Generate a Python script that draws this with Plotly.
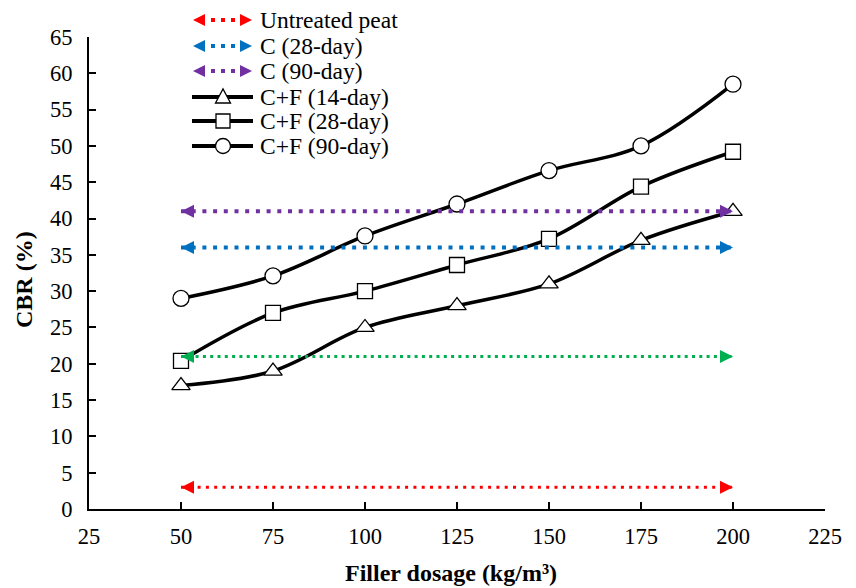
import plotly.graph_objects as go

# Filler dosage (kg/m3) and CBR (%) results
dosage = [50, 75, 100, 125, 150, 175, 200]
cbr_cf_14 = [17.0, 19.0, 25.0, 28.0, 31.0, 37.0, 41.0]
cbr_cf_28 = [20.4, 27.0, 30.0, 33.6, 37.2, 44.4, 49.2]
cbr_cf_90 = [29.0, 32.1, 37.6, 42.0, 46.6, 50.0, 58.5]

# Reference levels (constant over the dosage span)
level_names = ["Untreated peat", "C (28-day)", "C (90-day)", ""]
level_values = [3.0, 36.0, 41.0, 21.0]
level_colors = ["#FF0000", "#0070C0", "#7030A0", "#00B050"]
level_widths = [3, 4, 4, 3]
level_dashes = ["3px,5.3px", "4px,6.7px", "4px,6.7px", "3px,4.3px"]

cf_names = ["C+F (14-day)", "C+F (28-day)", "C+F (90-day)"]
cf_series = [cbr_cf_14, cbr_cf_28, cbr_cf_90]
cf_symbols = ["triangle-up", "square", "circle"]
cf_sizes = [16, 15, 16]

x_ticks = [25, 50, 75, 100, 125, 150, 175, 200, 225]
y_ticks = list(range(0, 70, 5))

FONT = "Liberation Serif"
W, H = 856, 588
ML, MR, MT, MB = 89, 31, 37, 79
PW, PH = W - ML - MR, H - MT - MB


def fx(px):
    return (px - ML) / PW


def fy(py):
    return (H - MB - py) / PH


fig = go.Figure()

for name, ys, sym, size in zip(cf_names, cf_series, cf_symbols, cf_sizes):
    fig.add_trace(go.Scatter(
        x=dosage, y=ys, name=name, mode="lines+markers",
        line=dict(color="black", width=3.5, shape="spline"),
        marker=dict(symbol=sym, size=size, color="white",
                    line=dict(color="black", width=1.3)),
        showlegend=False, cliponaxis=False,
    ))

shapes = []
for name, val, col, wd, dash in zip(level_names, level_values, level_colors,
                                    level_widths, level_dashes):
    fig.add_trace(go.Scatter(
        x=[dosage[0], dosage[-1]], y=[val, val], name=name or "level",
        mode="lines", line=dict(color=col, width=wd, dash=dash),
        showlegend=False,
    ))
    for xa, sign in ((dosage[0], 1), (dosage[-1], -1)):
        shapes.append(dict(
            type="path", xref="x", yref="y", xsizemode="pixel",
            ysizemode="pixel", xanchor=xa, yanchor=val,
            path=f"M0,0 L{13 * sign},6.5 L{13 * sign},-6.5 Z",
            fillcolor=col, line=dict(width=0), layer="above",
        ))

# Key drawn at the top-left of the plot
annotations = []
row_y = [20, 46, 71, 97, 121, 146]
key_items = [("arrow", n, c) for n, c in zip(level_names[:3], level_colors[:3])]
key_items += [("marker", n, s) for n, s in zip(cf_names, cf_symbols)]
for ry, (kind, name, extra) in zip(row_y, key_items):
    yp = fy(ry)
    if kind == "arrow":
        shapes.append(dict(type="line", xref="paper", yref="paper",
                           x0=fx(211), x1=fx(236), y0=yp, y1=yp,
                           line=dict(color=extra, width=4, dash="4px,6px")))
        for xa, sign in ((193, 1), (252, -1)):
            shapes.append(dict(
                type="path", xref="paper", yref="paper", xsizemode="pixel",
                ysizemode="pixel", xanchor=fx(xa), yanchor=yp,
                path=f"M0,0 L{12 * sign},6 L{12 * sign},-6 Z",
                fillcolor=extra, line=dict(width=0)))
    else:
        shapes.append(dict(type="line", xref="paper", yref="paper",
                           x0=fx(192), x1=fx(253), y0=yp, y1=yp,
                           line=dict(color="black", width=4)))
        common = dict(xref="paper", yref="paper", xsizemode="pixel",
                      ysizemode="pixel", xanchor=fx(223), yanchor=yp,
                      fillcolor="white", line=dict(color="black", width=1.3))
        if extra == "triangle-up":
            shapes.append(dict(type="path", path="M-7.5,-6 L7.5,-6 L0,8 Z",
                               **common))
        elif extra == "square":
            shapes.append(dict(type="rect", x0=-7, x1=7, y0=-7, y1=7,
                               **common))
        else:
            shapes.append(dict(type="circle", x0=-7.5, x1=7.5, y0=-7.5,
                               y1=7.5, **common))
    annotations.append(dict(
        text=name, xref="paper", yref="paper", x=fx(258), y=yp,
        xanchor="left", yanchor="middle", showarrow=False,
        font=dict(family=FONT, size=23.5, color="black")))

annotations.append(dict(
    text="<b>Filler dosage (kg/m³)</b>", xref="paper",
    yref="paper", x=fx(451), y=fy(573), xanchor="center", yanchor="middle",
    showarrow=False, font=dict(family=FONT, size=24, color="black")))
annotations.append(dict(
    text="<b>CBR (%)</b>", xref="paper", yref="paper", x=fx(24),
    y=fy(280), xanchor="center", yanchor="middle", textangle=-90,
    showarrow=False, font=dict(family=FONT, size=24, color="black")))

fig.update_layout(
    width=W, height=H,
    margin=dict(l=ML, r=MR, t=MT, b=MB),
    paper_bgcolor="white", plot_bgcolor="white",
    font=dict(family=FONT, size=22, color="black"),
    shapes=shapes, annotations=annotations,
    xaxis=dict(
        range=[25, 225], tickvals=x_ticks, ticktext=[str(t) for t in x_ticks],
        showline=True, linecolor="black", linewidth=2,
        ticks="inside", ticklen=7, tickwidth=1.5, tickcolor="black",
        showgrid=False, zeroline=False, ticklabelstandoff=6,
        tickfont=dict(family=FONT, size=22.5), automargin=False,
    ),
    yaxis=dict(
        range=[0, 65], tickvals=y_ticks, ticktext=[str(t) for t in y_ticks],
        showline=True, linecolor="black", linewidth=2,
        ticks="inside", ticklen=7, tickwidth=1.5, tickcolor="black",
        showgrid=False, zeroline=False, ticklabelstandoff=10,
        tickfont=dict(family=FONT, size=22.5), automargin=False,
    ),
)

fig.write_html("out.html")
